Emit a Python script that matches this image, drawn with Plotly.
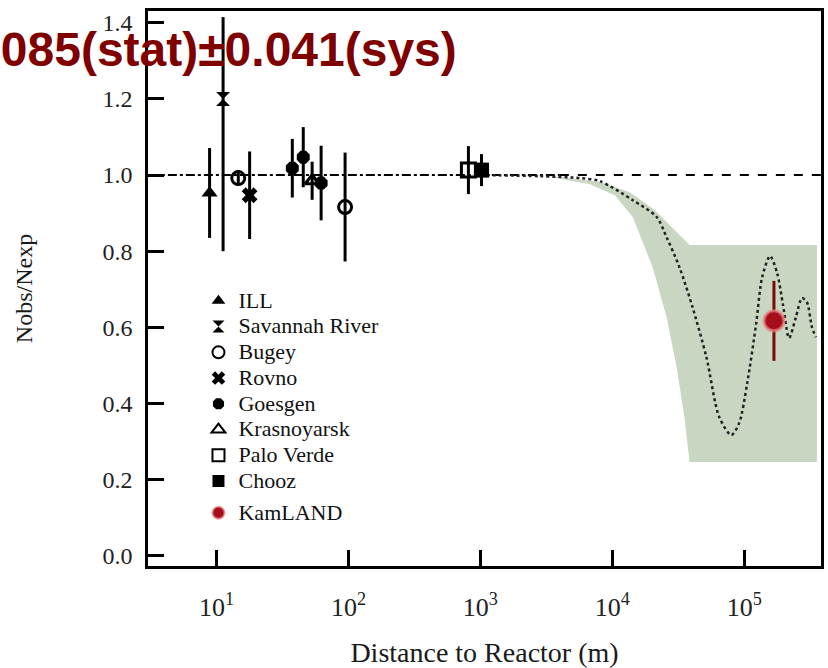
import plotly.graph_objects as go

# ---------------- data ----------------
ill_x = [8.85]
ill_y = [0.953]
ill_e = [0.118]

sav_x = [11.2]
sav_y = [1.20]
sav_ep = [0.215]
sav_em = [0.40]

bug_x = [14.6, 94.2]
bug_y = [0.992, 0.916]
bug_e = [0.02, 0.143]

rov_x = [17.8]
rov_y = [0.947]
rov_e = [0.115]

goe_x = [37.5, 45.4, 62.0]
goe_y = [1.018, 1.047, 0.979]
goe_e = [0.077, 0.079, 0.098]

kra_x = [53.0]
kra_y = [0.985]
kra_e = [0.05]

pv_x = [811.0]
pv_y = [1.013]
pv_e = [0.063]

ch_x = [1019.0]
ch_y = [1.013]
ch_e = [0.042]

kam_x = [1.68e5]
kam_y = [0.617]
kam_e = [0.105]

# allowed region (band) boundaries
band_up_x = [1416, 4018, 8054, 13550, 20930, 29640, 38480, 355600]
band_up_y = [1.0, 0.995, 0.982, 0.955, 0.908, 0.856, 0.816, 0.816]
band_lo_x = [1416, 3373, 6761, 10450, 14290, 20210, 25790, 30690, 35240, 38480, 355600]
band_lo_y = [1.0, 0.995, 0.976, 0.947, 0.890, 0.758, 0.627, 0.496, 0.364, 0.246, 0.246]

# best-fit oscillation curve (log10 distance, ratio)
curve_logx = [3.0, 3.453, 3.755, 3.906, 4.155, 4.336, 4.411, 4.509, 4.608, 4.713, 4.811,
              4.902, 4.962, 5.023, 5.091, 5.136, 5.196, 5.249, 5.294, 5.340, 5.392,
              5.438, 5.475, 5.513, 5.543]
curve_y = [1.0, 0.997, 0.992, 0.984, 0.934, 0.890, 0.837, 0.758, 0.653, 0.522, 0.364,
           0.317, 0.349, 0.454, 0.611, 0.732, 0.787, 0.743, 0.659, 0.572, 0.627,
           0.677, 0.666, 0.601, 0.574]

# no-oscillation reference line
ref_left_x = [3.12, 4000]
ref_right_x = [4000, 3.9e5]
ref_y = [1.0, 1.0]

x_tick_vals = [10, 100, 1000, 10000, 100000]
x_tick_text = ["10<sup>1</sup>", "10<sup>2</sup>", "10<sup>3</sup>", "10<sup>4</sup>", "10<sup>5</sup>"]
y_tick_vals = [0.0, 0.2, 0.4, 0.6, 0.8, 1.0, 1.2, 1.4]

title_text = "0.611±0.085(stat)±0.041(sys)"

SERIF = "Liberation Serif"
BAND = "#c9d6c1"
RED = "#a50f1c"
DARKRED = "#7a0a0a"


def lab(t):
    return "<span style='font-size:22px'>" + t + "</span>"


fig = go.Figure()

# band
fig.add_trace(go.Scatter(
    x=band_up_x + band_lo_x[::-1], y=band_up_y + band_lo_y[::-1],
    fill="toself", fillcolor=BAND, line=dict(width=0), mode="lines",
    showlegend=False, hoverinfo="skip"))

# reference line at 1
fig.add_trace(go.Scatter(x=ref_left_x, y=ref_y, mode="lines",
                         line=dict(color="black", width=2, dash="dashdot"),
                         showlegend=False, hoverinfo="skip"))
fig.add_trace(go.Scatter(x=ref_right_x, y=ref_y, mode="lines",
                         line=dict(color="black", width=2, dash="dash"),
                         showlegend=False, hoverinfo="skip"))

# oscillation curve
fig.add_trace(go.Scatter(x=[10 ** v for v in curve_logx], y=curve_y, mode="lines",
                         line=dict(color="#222", width=2.5, dash="dot", shape="spline", smoothing=0.8),
                         showlegend=False, hoverinfo="skip"))

eb = dict(type="data", thickness=3, width=0, color="black")


def add_exp(name, xs, ys, es, symbol, size, lw=0, ecolor="black", mcolor="black", group="a", em=None):
    e = dict(eb)
    e["array"] = es
    e["color"] = ecolor
    if em is not None:
        e["symmetric"] = False
        e["arrayminus"] = em
    fig.add_trace(go.Scatter(
        x=xs, y=ys, mode="markers", name=lab(name), legendgroup=group,
        marker=dict(symbol=symbol, size=size, color=mcolor,
                    line=dict(width=lw, color=mcolor)),
        error_y=e))


add_exp("ILL", ill_x, ill_y, ill_e, "triangle-up", 14)
add_exp("Savannah River", sav_x, sav_y, sav_ep, "hourglass", 14, em=sav_em)
add_exp("Bugey", bug_x, bug_y, bug_e, "circle-open", 13, lw=3)
add_exp("Rovno", rov_x, rov_y, rov_e, "x", 14)
add_exp("Goesgen", goe_x, goe_y, goe_e, "octagon", 14)
add_exp("Krasnoyarsk", kra_x, kra_y, kra_e, "triangle-up-open", 12, lw=3)
add_exp("Palo Verde", pv_x, pv_y, pv_e, "square-open", 14, lw=3)
add_exp("Chooz", ch_x, ch_y, ch_e, "square", 15)
fig.add_trace(go.Scatter(
    x=kam_x, y=kam_y, mode="markers", name=lab("KamLAND"), legendgroup="b",
    marker=dict(symbol="circle", size=20, color=RED,
                line=dict(width=3, color="rgba(235,130,130,0.7)")),
    error_y=dict(type="data", array=kam_e, thickness=3, width=0, color=DARKRED)))

fig.update_layout(
    width=828, height=668,
    margin=dict(l=148, r=4, t=11, b=102),
    paper_bgcolor="white", plot_bgcolor="white",
    font=dict(family=SERIF, color="#1a1a1a"),
    showlegend=True,
    legend=dict(x=0.075, y=0.51, xanchor="left", yanchor="top",
                font=dict(family=SERIF, size=17.5, color="#111"),
                bgcolor="rgba(0,0,0,0)", traceorder="grouped", tracegroupgap=6,
                itemsizing="constant", itemwidth=30),
    xaxis=dict(type="log", range=[0.48, 5.582], showgrid=False, zeroline=False,
               showline=True, linecolor="black", linewidth=2.5, mirror=True,
               ticks="inside", ticklen=16, tickwidth=2.5, tickcolor="black",
               tickvals=x_tick_vals, ticktext=x_tick_text,
               tickfont=dict(family=SERIF, size=26, color="#222"),
               ticklabelstandoff=16,
               title=dict(text="Distance to Reactor (m)", standoff=22,
                          font=dict(family=SERIF, size=28, color="#1a1a1a"))),
    yaxis=dict(range=[-0.027, 1.431], showgrid=False, zeroline=False,
               showline=True, linecolor="black", linewidth=2.5, mirror=True,
               ticks="inside", ticklen=16, tickwidth=2.5, tickcolor="black",
               tickvals=y_tick_vals, tickformat=".1f",
               tickfont=dict(family=SERIF, size=24, color="#222"),
               ticklabelstandoff=8,
               title=dict(text="Nobs/Nexp", standoff=64,
                          font=dict(family=SERIF, size=24, color="#1a1a1a"))),
    annotations=[dict(text="<b>" + title_text + "</b>", xref="paper", yref="paper",
                      x=(460 - 148) / 676, y=1 - (50 - 11) / 555,
                      xanchor="right", yanchor="middle", showarrow=False,
                      font=dict(family="Liberation Sans", size=48, color="#800000"))],
)

fig.write_html("out.html")
